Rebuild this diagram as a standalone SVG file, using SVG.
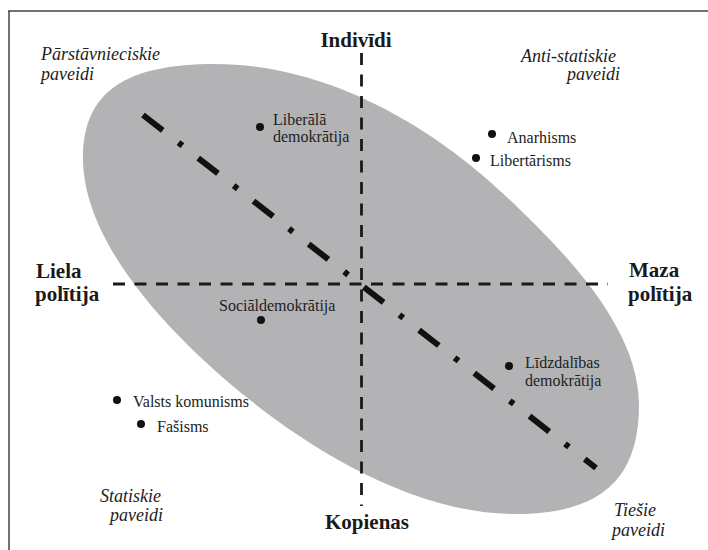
<svg xmlns="http://www.w3.org/2000/svg" width="708" height="550" viewBox="0 0 708 550">
<style>
.frame{stroke:#444;stroke-width:1.5;fill:none}
.axis{stroke:#1a1a1a;stroke-width:2.8;stroke-dasharray:12 9.5;fill:none}
.diag{stroke:#111;stroke-width:6;stroke-dasharray:25 20 5 20;fill:none}
.blob{fill:#b3b3b6}
.dot{fill:#111}
text{font-family:'Liberation Serif','DejaVu Serif',serif}
.ax{font-weight:bold;font-size:21px;fill:#1a1a1a}
.it{font-style:italic;font-size:18px;fill:#222}
.lb{font-size:16px;fill:#222}
</style>
<rect width="708" height="550" fill="#fff"/>
<g id="frame">
<path class="frame" d="M8,11 H708 M9,11 V550"/>
</g>
<g id="region">
<path class="blob" d="M83,158 C83,90 128,64 215,64 C325,64 431,124 510,200 C560,248 639,325 639,405 C639,480 600,514 515,514 C415,514 312.6,449.8 250,400 C179.5,344 83,248 83,158 Z"/>
</g>
<g id="connectors">
<line class="axis" x1="361.5" y1="53" x2="361.5" y2="506"/>
<line class="axis" x1="113" y1="284" x2="608" y2="284"/>
<line class="diag" x1="143" y1="115" x2="596" y2="468"/>
</g>
<g id="axis-labels" font-family="Liberation Serif, serif">
<text class="ax" x="356" y="47" text-anchor="middle">Indivīdi</text>
<text class="ax" x="367" y="529" text-anchor="middle">Kopienas</text>
<text class="ax" x="36" y="278">Liela</text>
<text class="ax" x="35" y="301">polītija</text>
<text class="ax" x="629" y="277">Maza</text>
<text class="ax" x="628" y="301">polītija</text>
</g>
<g id="corner-labels">
<text class="it" x="41" y="60">Pārstāvnieciskie</text>
<text class="it" x="41" y="80">paveidi</text>
<text class="it" x="521" y="62">Anti-statiskie</text>
<text class="it" x="567" y="80">paveidi</text>
<text class="it" x="100" y="502">Statiskie</text>
<text class="it" x="110" y="521">paveidi</text>
<text class="it" x="614" y="516">Tiešie</text>
<text class="it" x="612" y="536">paveidi</text>
</g>
<g id="node-liberala">
<circle class="dot" cx="260" cy="127" r="4"/>
<text class="lb" x="273" y="125">Liberālā</text>
<text class="lb" x="273" y="142">demokrātija</text>
</g>
<g id="node-anarhisms">
<circle class="dot" cx="492" cy="134" r="4"/>
<text class="lb" x="507" y="143">Anarhisms</text>
</g>
<g id="node-libertarisms">
<circle class="dot" cx="476" cy="158" r="4"/>
<text class="lb" x="490" y="166">Libertārisms</text>
</g>
<g id="node-socialdemokratija">
<circle class="dot" cx="261" cy="320" r="4"/>
<text class="lb" x="219" y="311">Sociāldemokrātija</text>
</g>
<g id="node-valsts-komunisms">
<circle class="dot" cx="117" cy="400" r="4"/>
<text class="lb" x="133" y="407">Valsts komunisms</text>
</g>
<g id="node-fasisms">
<circle class="dot" cx="141" cy="424" r="4"/>
<text class="lb" x="157" y="432">Fašisms</text>
</g>
<g id="node-lidzdalibas">
<circle class="dot" cx="509" cy="366" r="4"/>
<text class="lb" x="525" y="368">Līdzdalības</text>
<text class="lb" x="525" y="386">demokrātija</text>
</g>
</svg>
